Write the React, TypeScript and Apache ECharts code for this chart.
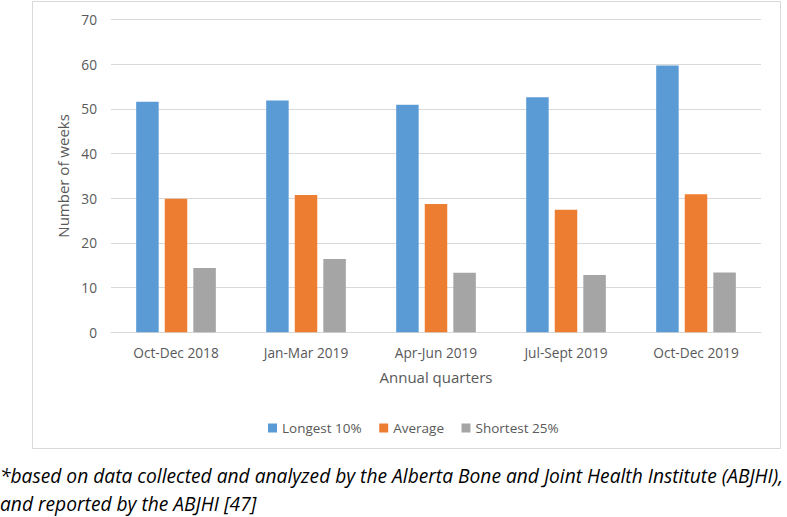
import React, { useEffect, useRef } from "react";
import * as echarts from "echarts";

const categories = ["Oct-Dec 2018", "Jan-Mar 2019", "Apr-Jun 2019", "Jul-Sept 2019", "Oct-Dec 2019"];
const longest10 = [51.6, 51.9, 50.9, 52.6, 59.7];
const average = [29.9, 30.7, 28.7, 27.4, 30.9];
const shortest25 = [14.4, 16.4, 13.3, 12.8, 13.4];
const seriesNames = ["Longest 10%", "Average", "Shortest 25%"];
const colors = ["#5B9BD5", "#ED7D31", "#A5A5A5"];
const footnoteLines = [
  "*based on data collected and analyzed by the Alberta Bone and Joint Health Institute (ABJHI),",
  "and reported by the ABJHI [47]",
];

const FONT = "'Open Sans', sans-serif";

export default function App() {
  const ref = useRef<HTMLDivElement>(null);
  useEffect(() => {
    if (!ref.current) return;
    const chart = echarts.init(ref.current, null, { renderer: "svg" });
    const data = [longest10, average, shortest25];
    chart.setOption({
      animation: false,
      backgroundColor: "#ffffff",
      textStyle: { fontFamily: FONT },
      grid: { left: 111, right: 26, top: 19.5, bottom: 184.7, containLabel: false },
      legend: {
        data: seriesNames,
        left: 263,
        top: 416,
        itemWidth: 9,
        itemHeight: 9,
        itemGap: 17.5,
        icon: "rect",
        textStyle: { color: "#595959", fontSize: 13.5, fontFamily: FONT },
      },
      xAxis: {
        type: "category",
        data: categories,
        axisLine: { show: true, lineStyle: { color: "#d9d9d9", width: 1 } },
        axisTick: { show: false },
        axisLabel: { color: "#595959", fontSize: 13.7, margin: 13, fontFamily: FONT },
        name: "Annual quarters",
        nameLocation: "middle",
        nameGap: 37,
        nameTextStyle: { color: "#595959", fontSize: 15, fontFamily: FONT },
      },
      yAxis: {
        type: "value",
        min: 0,
        max: 70,
        interval: 10,
        axisLine: { show: false },
        axisTick: { show: false },
        splitLine: { lineStyle: { color: "#d9d9d9", width: 1 } },
        axisLabel: { color: "#595959", fontSize: 13.7, margin: 14, fontFamily: FONT },
        name: "Number of weeks",
        nameLocation: "middle",
        nameGap: 39,
        nameTextStyle: { color: "#595959", fontSize: 15, fontFamily: FONT },
      },
      series: seriesNames.map((n, i) => ({
        name: n,
        type: "bar",
        data: data[i],
        barWidth: 22.5,
        barGap: "27%",
        itemStyle: { color: colors[i] },
      })),
      graphic: [
        {
          type: "rect",
          shape: { x: 32.5, y: 1.5, width: 748, height: 447 },
          style: { fill: "none", stroke: "#d9d9d9", lineWidth: 1 },
          silent: true,
        },
        ...footnoteLines.map((t, i) => ({
          type: "text",
          left: 0,
          top: 466 + i * 28,
          style: {
            text: t,
            fill: "#000000",
            font: `italic 19.2px ${FONT}`,
          },
        })),
      ],
    });
    return () => chart.dispose();
  }, []);
  return (
    <div
      ref={ref}
      style={{ position: "fixed", left: 0, top: 0, width: 787, height: 517 }}
    />
  );
}
